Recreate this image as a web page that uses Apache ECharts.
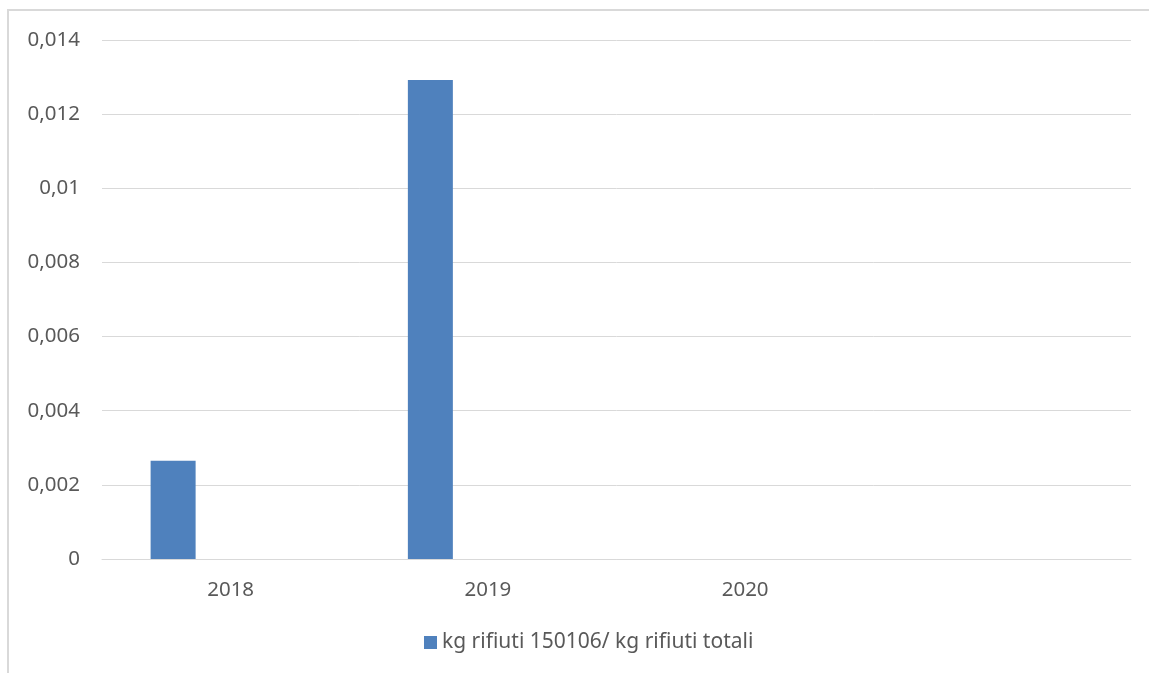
<!DOCTYPE html>
<html>
<head>
<meta charset="utf-8">
<script src="https://cdn.jsdelivr.net/npm/echarts@6/dist/echarts.min.js"></script>
<style>
html,body{margin:0;padding:0;background:#fff;}
#chart{width:1149px;height:673px;}
</style>
</head>
<body>
<div id="chart"></div>
<script>
var categories = ['2018', '2019', '2020', ''];
var seriesName = 'kg rifiuti 150106/ kg rifiuti totali';
var values = [0.00265, 0.01292, 0, null];
var emptySeries = [null, null, null, null];
var yTickLabels = ['0', '0,002', '0,004', '0,006', '0,008', '0,01', '0,012', '0,014'];

var chart = echarts.init(document.getElementById('chart'), null, {renderer: 'canvas'});
var textColor = '#595959';
var fontFamily = '"Noto Sans", "Open Sans", sans-serif';
chart.setOption({
  animation: false,
  backgroundColor: '#ffffff',
  textStyle: {fontFamily: fontFamily},
  graphic: [{
    type: 'rect',
    silent: true,
    shape: {x: 8, y: 10, width: 1300, height: 800},
    style: {fill: 'none', stroke: '#d9d9d9', lineWidth: 2}
  }],
  grid: {left: 102, right: 18, top: 40, bottom: 114, containLabel: false},
  legend: {
    data: [seriesName],
    bottom: 15,
    left: 419,
    icon: 'rect',
    itemWidth: 13,
    itemHeight: 13,
    itemGap: 5,
    textStyle: {color: textColor, fontSize: 21, fontFamily: fontFamily, padding: [0, 0, 0, 0]}
  },
  xAxis: {
    type: 'category',
    data: categories,
    axisLine: {show: true, lineStyle: {color: '#d9d9d9', width: 1}},
    axisTick: {show: false},
    axisLabel: {color: textColor, fontSize: 20.5, margin: 21, fontFamily: fontFamily},
    splitLine: {show: false}
  },
  yAxis: {
    type: 'value',
    min: 0,
    max: 0.014,
    interval: 0.002,
    axisLine: {show: false},
    axisTick: {show: false},
    axisLabel: {
      color: textColor, fontSize: 20.5, margin: 22, fontFamily: fontFamily,
      formatter: function (v) {
        var i = Math.round(v / 0.002);
        return yTickLabels[i];
      }
    },
    splitLine: {show: true, lineStyle: {color: '#d9d9d9', width: 1}}
  },
  series: [{
    name: seriesName,
    type: 'bar',
    data: values,
    barWidth: 45,
    barGap: '155.6%',
    itemStyle: {color: '#4f81bd'}
  }, {
    name: '_empty',
    type: 'bar',
    data: emptySeries,
    barWidth: 45,
    itemStyle: {color: '#c0504d'}
  }]
});
</script>
</body>
</html>
